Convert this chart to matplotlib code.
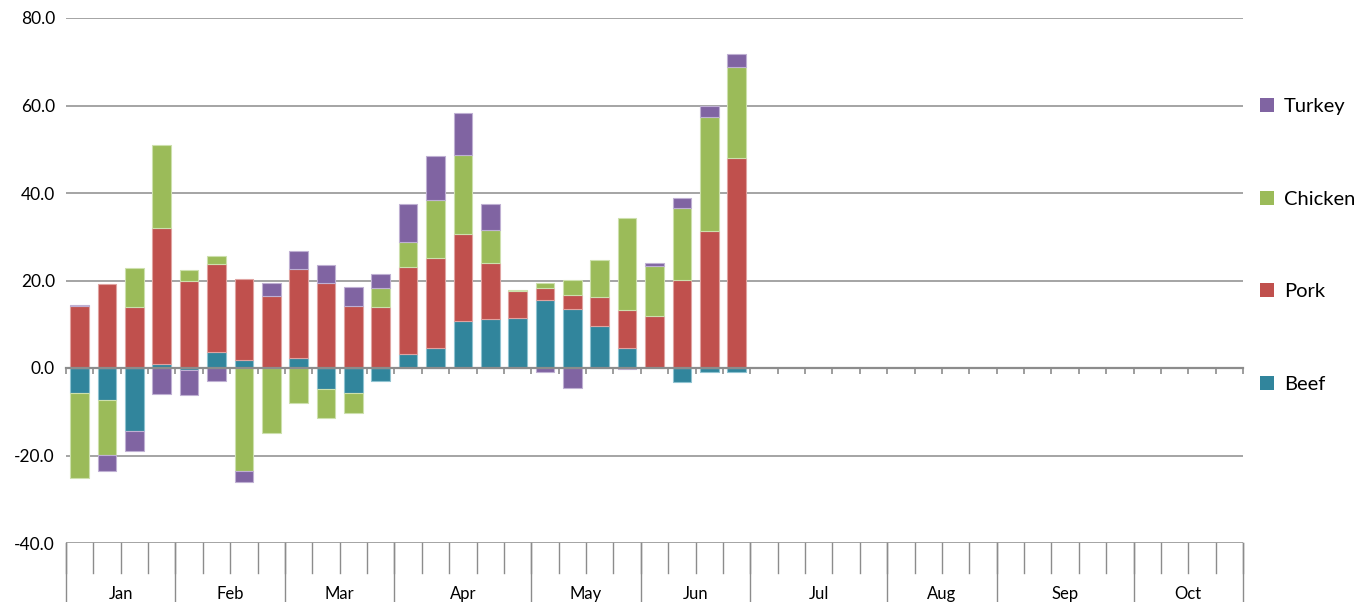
import numpy as np
import matplotlib
matplotlib.use("Agg")
import matplotlib.pyplot as plt

plt.rcParams['font.family'] = ['Lato', 'DejaVu Sans']

# weekly values, Jan - Jun filled, rest of the year still empty
beef = [-5.6, -7.2, -14.3, 1.0, -0.4, 3.6, 1.9, 0.0, 2.2, -4.9, -5.8, -2.9, 3.2,
        4.5, 10.8, 11.2, 11.5, 15.5, 13.5, 9.5, 4.5, 0.0, -3.2, -0.8, -0.8]
pork = [14.1, 19.1, 13.9, 31.0, 19.8, 20.1, 18.5, 16.5, 20.5, 19.5, 14.2, 13.9, 19.9,
        20.6, 19.9, 12.9, 6.1, 2.7, 3.3, 6.7, 8.7, 11.8, 20.1, 31.4, 48.0]
chicken = [-19.6, -12.6, 8.9, 18.9, 2.6, 2.0, -23.5, -14.9, -8.0, -6.6, -4.4, 4.3, 5.6,
           13.3, 18.0, 7.4, 0.3, 1.3, 3.4, 8.4, 21.0, 11.6, 16.4, 26.0, 20.7]
turkey = [0.3, -3.7, -4.6, -6.0, -5.7, -2.9, -2.6, 2.9, 4.1, 4.0, 4.4, 3.3, 8.7,
          10.0, 9.6, 5.9, 0.0, -0.9, -4.5, 0.0, -0.3, 0.7, 2.3, 2.4, 3.0]

months = ['Jan', 'Feb', 'Mar', 'Apr', 'May', 'Jun', 'Jul', 'Aug', 'Sep', 'Oct']
weeks_per_month = [4, 4, 4, 5, 4, 4, 5, 4, 5, 4]

series = [('Beef', beef, '#31859C', '#8fc3d1'),
          ('Pork', pork, '#C0504D', '#e0a3a1'),
          ('Chicken', chicken, '#9BBB59', '#cde0ad'),
          ('Turkey', turkey, '#8064A2', '#bfb0d3')]

n_weeks = sum(weeks_per_month)
x = np.arange(n_weeks)

fig = plt.figure(figsize=(13.67, 6.02), dpi=100)
ax = fig.add_axes([66 / 1367, 1 - 543 / 602, (1243 - 66) / 1367, 525 / 602])

pos_base = np.zeros(n_weeks)
neg_base = np.zeros(n_weeks)
handles = {}
for name, vals, col, edge in series:
    v = np.zeros(n_weeks)
    v[:len(vals)] = vals
    bottom = np.where(v >= 0, pos_base, neg_base)
    mask = v != 0
    b = ax.bar(x[mask], v[mask], bottom=bottom[mask], width=0.68,
               color=col, edgecolor=edge, linewidth=0.8, zorder=3)
    handles[name] = b
    pos_base += np.where(v > 0, v, 0)
    neg_base += np.where(v < 0, v, 0)

ax.set_xlim(-0.5, n_weeks - 0.5)
ax.set_ylim(-40, 80)
ax.set_yticks(np.arange(-40, 81, 20))
ax.set_yticklabels([f'{t:.1f}' for t in np.arange(-40, 81, 20)], fontsize=12.5)
ax.tick_params(axis='y', length=0, pad=8)
ax.yaxis.grid(True, color='#8c8c8c', linewidth=1.1, zorder=0)
ax.set_axisbelow(True)

for s in ['left', 'right', 'top']:
    ax.spines[s].set_visible(False)

# category axis sits on zero, with a small tick between each week
ax.spines['bottom'].set_position(('data', 0))
ax.spines['bottom'].set_color('#8c8c8c')
ax.spines['bottom'].set_linewidth(1.6)
ax.spines['bottom'].set_zorder(4)
ax.set_xticks(np.arange(n_weeks + 1) - 0.5)
ax.set_xticklabels([])
ax.tick_params(axis='x', direction='out', length=4, width=1.2, color='#8c8c8c')

# two-level category labels below the plot
tr = ax.get_xaxis_transform()
for b in np.arange(n_weeks + 1) - 0.5:
    ax.plot([b, b], [0, -0.058], transform=tr, color='#8c8c8c', lw=1.0, clip_on=False)
edges = np.concatenate([[0], np.cumsum(weeks_per_month)]) - 0.5
for e in edges:
    ax.plot([e, e], [0, -0.115], transform=tr, color='#8c8c8c', lw=1.0, clip_on=False)
for m, a, b in zip(months, edges[:-1], edges[1:]):
    ax.text((a + b) / 2, -0.098, m, transform=tr, ha='center', va='center', fontsize=12)

order = ['Turkey', 'Chicken', 'Pork', 'Beef']
leg = fig.legend([handles[k] for k in order], order, loc='upper left',
                 bbox_to_anchor=(1252 / 1367, 1 - 90 / 602), frameon=False,
                 fontsize=14.5, labelspacing=3.75, handlelength=0.7, handleheight=0.7,
                 handletextpad=0.5, borderaxespad=0)
for h in leg.legend_handles:
    h.set_edgecolor('none')

fig.savefig('out.png', dpi=100)
